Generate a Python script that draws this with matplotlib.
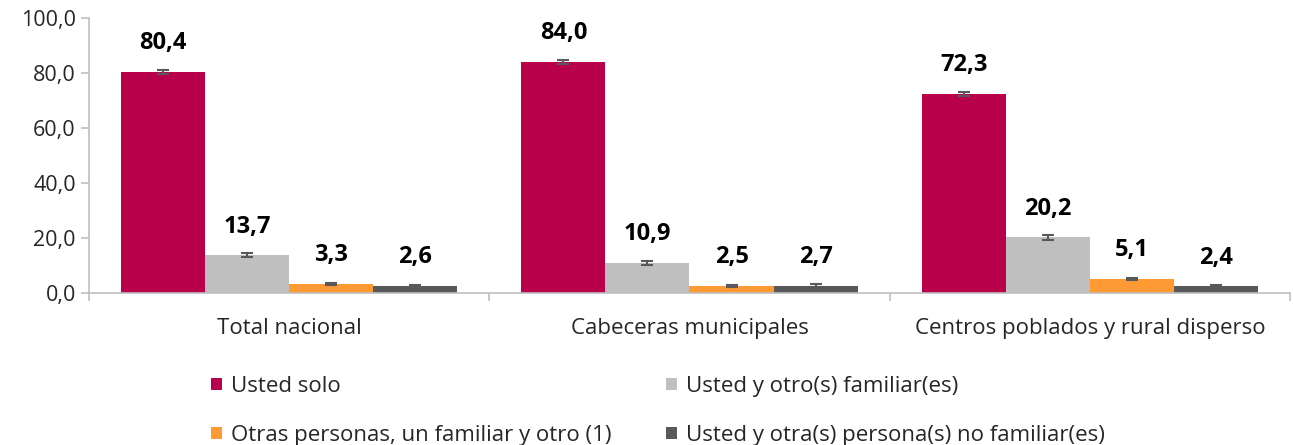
import matplotlib.pyplot as plt
import numpy as np

plt.rcParams['font.family'] = ['Open Sans', 'DejaVu Sans']

# Data
categorias = ["Total nacional", "Cabeceras municipales", "Centros poblados y rural disperso"]
series = ["Usted solo", "Usted y otro(s) familiar(es)",
          "Otras personas, un familiar y otro (1)", "Usted y otra(s) persona(s) no familiar(es)"]
usted_solo = [80.4, 84.0, 72.3]
otro_familiar = [13.7, 10.9, 20.2]
otras_personas = [3.3, 2.5, 5.1]
no_familiar = [2.6, 2.7, 2.4]
err_usted_solo = [0.8, 0.6, 0.8]
err_otro_familiar = [0.7, 0.6, 0.8]
err_otras_personas = [0.4, 0.3, 0.5]
err_no_familiar = [0.4, 0.4, 0.5]
colores = ["#B8004B", "#BFBFBF", "#FF9933", "#595959"]

valores = [usted_solo, otro_familiar, otras_personas, no_familiar]
errores = [err_usted_solo, err_otro_familiar, err_otras_personas, err_no_familiar]

fig = plt.figure(figsize=(12.93, 4.45), dpi=100)
ax = fig.add_axes([0.0688, 0.3416, 0.9289, 0.618])

x = np.arange(len(categorias))
w = 0.21
barras = []
for i in range(4):
    pos = x + (i - 1.5) * w
    b = ax.bar(pos, valores[i], w, color=colores[i], label=series[i], zorder=2)
    ax.errorbar(pos, valores[i], yerr=errores[i], fmt='none', ecolor="#595959",
                elinewidth=1.5, capsize=4.5, capthick=1.5, zorder=3)
    barras.append(b)
    for p, v in zip(pos, valores[i]):
        ax.annotate(f"{v:.1f}".replace(".", ","), (p, v), xytext=(0, 12),
                    textcoords="offset points", ha="center", va="bottom",
                    fontsize=17, fontweight="bold", color="black")

ax.set_xlim(-0.5, 2.5)
ax.set_ylim(0, 100)
ax.set_yticks(np.arange(0, 101, 20))
ax.set_yticklabels([f"{t:.1f}".replace(".", ",") for t in np.arange(0, 101, 20)])
ax.set_xticks(x)
ax.set_xticklabels(categorias)
ax.set_xticks([-0.5, 0.5, 1.5, 2.5], minor=True)
ax.tick_params(axis="x", which="major", length=0, pad=18, labelsize=16, labelcolor="#262626")
ax.tick_params(axis="x", which="minor", length=6, color="#BFBFBF", width=1.2)
ax.tick_params(axis="y", length=6, color="#BFBFBF", width=1.2, labelsize=15.5, labelcolor="#262626")

for s in ["top", "right"]:
    ax.spines[s].set_visible(False)
for s in ["left", "bottom"]:
    ax.spines[s].set_color("#BFBFBF")
    ax.spines[s].set_linewidth(1.2)

# Legend ordering: row1 = series 0,1 ; row2 = series 2,3
orden = [0, 2, 1, 3]
fig.legend([barras[i] for i in orden], [series[i] for i in orden], ncol=2,
           loc="upper left", bbox_to_anchor=(0.148, 0.2), frameon=False,
           fontsize=16, handlelength=0.5, handleheight=0.5, handletextpad=0.4,
           labelspacing=1.25, columnspacing=2.45, labelcolor="#262626")

fig.savefig("out.png", dpi=100)
